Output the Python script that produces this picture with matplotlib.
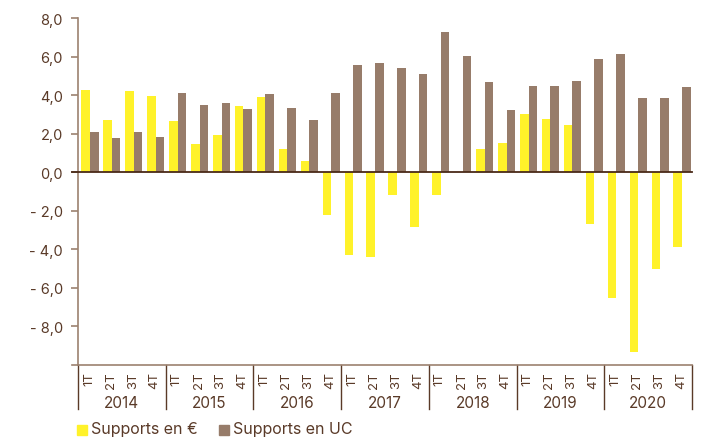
import matplotlib.pyplot as plt
from matplotlib.patches import Rectangle
from matplotlib.ticker import FuncFormatter

years = ['2014', '2015', '2016', '2017', '2018', '2019', '2020']
quarters = ['1T', '2T', '3T', '4T']

supports_euro = [4.26, 2.70, 4.21, 3.95,
                 2.65, 1.45, 1.92, 3.43,
                 3.90, 1.19, 0.57, -2.22,
                 -4.31, -4.40, -1.18, -2.84,
                 -1.18, 0.0, 1.19, 1.51,
                 3.01, 2.75, 2.44, -2.70,
                 -6.55, -9.34, -5.02, -3.88]
supports_uc = [2.08, 1.77, 2.08, 1.82,
               4.10, 3.48, 3.58, 3.27,
               4.05, 3.32, 2.70, 4.10,
               5.56, 5.66, 5.40, 5.09,
               7.27, 6.03, 4.68, 3.22,
               4.47, 4.47, 4.73, 5.87,
               6.13, 3.84, 3.84, 4.42]

YELLOW = '#fff22a'
BROWN = '#977c6a'
TEXT = '#5a3a28'
AXIS = '#9c8270'
ZERO = '#4a2a18'

plt.rcParams['font.family'] = ['Inter', 'DejaVu Sans']

fig = plt.figure(figsize=(7.13, 4.39), dpi=100)
ax = fig.add_axes([78 / 713, 73 / 439, 614 / 713, 347 / 439])

n = len(supports_euro)
idx = list(range(n))
w = 0.39
ax.bar([i + 0.35 for i in idx], supports_euro, width=w, color=YELLOW, zorder=2)
ax.bar([i + 0.74 for i in idx], supports_uc, width=w, color=BROWN, zorder=2)

ax.set_xlim(0, n)
ax.set_ylim(-10, 8)

# axes styling
for s in ['top', 'right']:
    ax.spines[s].set_visible(False)
for s in ['left', 'bottom']:
    ax.spines[s].set_color(AXIS)
    ax.spines[s].set_linewidth(1.2)

ax.set_yticks([8, 6, 4, 2, 0, -2, -4, -6, -8])
ax.yaxis.set_major_formatter(FuncFormatter(
    lambda v, p: ('- ' if v < 0 else '') + f'{abs(v):.1f}'.replace('.', ',')))
ax.tick_params(axis='y', colors=AXIS, labelcolor=TEXT, labelsize=10.5,
               length=5, width=1.2, pad=6)
ax.set_xticks([])

# zero line extending slightly left of the axis
ax.plot([-0.27, n], [0, 0], color=ZERO, lw=1.3, clip_on=False, zorder=3)
ax.plot([-0.27, 0], [-10, -10], color=AXIS, lw=1.2, clip_on=False)

# quarter and year labels
tr = ax.get_xaxis_transform()
for i in idx:
    ax.text(i + 0.5, -0.018, quarters[i % 4], transform=tr, rotation=90,
            ha='center', va='top', fontsize=9.5, color=TEXT)
for k, y in enumerate(years):
    ax.text(4 * k + 2, -0.108, y, transform=tr, ha='center', va='center',
            fontsize=11, color=TEXT)
for k in range(len(years) + 1):
    ax.plot([4 * k, 4 * k], [0, -0.128], transform=tr, color=TEXT,
            lw=1.0, clip_on=False)

# legend
fig.patches.append(Rectangle((77 / 713, 1 - 436 / 439), 10 / 713, 10 / 439,
                             transform=fig.transFigure, color=YELLOW))
fig.text(91 / 713, 1 - 430 / 439, 'Supports en €', fontsize=11.5,
         color=TEXT, va='center')
fig.patches.append(Rectangle((219 / 713, 1 - 436 / 439), 10 / 713, 10 / 439,
                             transform=fig.transFigure, color=BROWN))
fig.text(233 / 713, 1 - 430 / 439, 'Supports en UC', fontsize=11.5,
         color=TEXT, va='center')

fig.savefig('out.png', dpi=100)
